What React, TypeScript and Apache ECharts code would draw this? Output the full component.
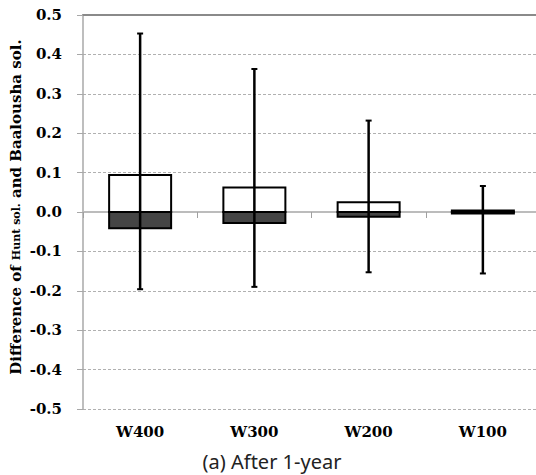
import React, { useEffect, useRef } from "react";
import * as echarts from "echarts";

const categories = ["W400", "W300", "W200", "W100"];
const maxVals = [0.453, 0.363, 0.232, 0.066];
const q3Vals = [0.094, 0.062, 0.025, 0.004];
const q1Vals = [-0.041, -0.028, -0.012, -0.004];
const minVals = [-0.196, -0.19, -0.153, -0.156];

const yMin = -0.5;
const yMax = 0.5;
const yInterval = 0.1;

export default function App() {
  const ref = useRef<HTMLDivElement>(null);

  useEffect(() => {
    if (!ref.current) return;
    const chart = echarts.init(ref.current, null, { renderer: "svg" });
    const data = categories.map((_, i) => [i, maxVals[i], q3Vals[i], q1Vals[i], minVals[i]]);
    const serif = "'DejaVu Serif', 'Liberation Serif', serif";

    chart.setOption({
      animation: false,
      backgroundColor: "#ffffff",
      grid: { left: 83, right: 0, top: 15, bottom: 66 },
      xAxis: [
        {
          type: "category",
          data: categories,
          boundaryGap: true,
          position: "bottom",
          axisLine: { show: true, lineStyle: { color: "#bcbcbc", width: 2 } },
          axisTick: { show: true, length: 6, lineStyle: { color: "#a0a0a0", width: 1 } },
          axisLabel: {
            color: "#000",
            fontFamily: serif,
            fontWeight: "bold",
            fontSize: 15,
            margin: 15,
          },
          splitLine: { show: false },
        },
        {
          type: "category",
          data: categories,
          position: "top",
          axisLine: { show: true, lineStyle: { color: "#8a8a8a", width: 2 } },
          axisTick: { show: false },
          axisLabel: { show: false },
          splitLine: { show: false },
        },
      ],
      yAxis: {
        type: "value",
        min: yMin,
        max: yMax,
        interval: yInterval,
        axisLine: { show: true, lineStyle: { color: "#a8a8a8", width: 1.5 } },
        axisTick: { show: true, length: 6, lineStyle: { color: "#a8a8a8", width: 1 } },
        axisLabel: {
          color: "#000",
          fontFamily: serif,
          fontWeight: "bold",
          fontSize: 15,
          margin: 21,
          formatter: (v: number) => v.toFixed(1),
        },
        splitLine: {
          show: true,
          lineStyle: { color: "#b0b0b0", type: [3, 2], width: 1 },
        },
      },
      graphic: [
        {
          type: "text",
          x: 16,
          y: 207,
          rotation: Math.PI / 2,
          style: {
            text: "{a|Difference of }{b|Hunt sol.}{a| and Baalousha sol.}",
            align: "center",
            verticalAlign: "middle",
            rich: {
              a: { fontFamily: serif, fontWeight: "bold", fontSize: 15, fill: "#000" },
              b: { fontFamily: serif, fontWeight: "bold", fontSize: 11, fill: "#000" },
            },
          },
        },
        {
          type: "text",
          x: 272,
          y: 461,
          style: {
            text: "(a) After 1-year",
            align: "center",
            verticalAlign: "middle",
            fontFamily: "'Noto Sans', 'Open Sans', sans-serif",
            fontSize: 20,
            fill: "#222",
          },
        },
      ],
      series: [
        {
          type: "custom",
          xAxisIndex: 0,
          data,
          encode: { x: 0, y: [1, 2, 3, 4] },
          renderItem: (params: any, api: any) => {
            const idx = api.value(0);
            const pMax = api.coord([idx, api.value(1)]);
            const pQ3 = api.coord([idx, api.value(2)]);
            const pQ1 = api.coord([idx, api.value(3)]);
            const pMin = api.coord([idx, api.value(4)]);
            const pZero = api.coord([idx, 0]);
            const cx = pZero[0];
            const bw = 62;
            const cap = 6;
            return {
              type: "group",
              children: [
                {
                  type: "rect",
                  shape: { x: cx - bw / 2, y: pQ3[1], width: bw, height: pZero[1] - pQ3[1] },
                  style: { fill: "#ffffff", stroke: "#000", lineWidth: 2 },
                },
                {
                  type: "rect",
                  shape: { x: cx - bw / 2, y: pZero[1], width: bw, height: pQ1[1] - pZero[1] },
                  style: { fill: "#454545", stroke: "#000", lineWidth: 2 },
                },
                {
                  type: "line",
                  shape: { x1: cx, y1: pMax[1], x2: cx, y2: pMin[1] },
                  style: { stroke: "#000", lineWidth: 2.5 },
                },
                {
                  type: "line",
                  shape: { x1: cx - cap / 2, y1: pMax[1], x2: cx + cap / 2, y2: pMax[1] },
                  style: { stroke: "#000", lineWidth: 2 },
                },
                {
                  type: "line",
                  shape: { x1: cx - cap / 2, y1: pMin[1], x2: cx + cap / 2, y2: pMin[1] },
                  style: { stroke: "#000", lineWidth: 2 },
                },
              ],
            };
          },
          z: 5,
        },
      ],
    });
    return () => chart.dispose();
  }, []);

  return (
    <div style={{ position: "fixed", left: 0, top: 0, width: 536, height: 475, overflow: "hidden", background: "#fff" }}>
      <div ref={ref} style={{ width: 540, height: 475 }} />
    </div>
  );
}
